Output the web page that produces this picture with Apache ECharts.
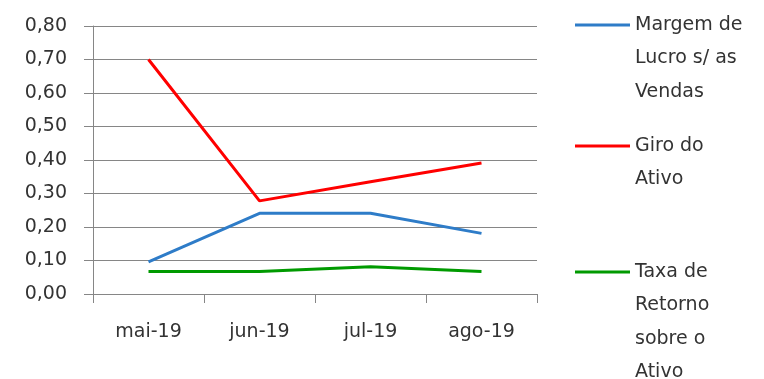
<!DOCTYPE html>
<html><head><meta charset="utf-8">
<script src="https://cdn.jsdelivr.net/npm/echarts@6/dist/echarts.min.js"></script>
<style>html,body{margin:0;padding:0;background:#fff}#c{width:764px;height:379px}</style>
</head><body><div id="c"></div>
<script>
var categories = ['mai-19', 'jun-19', 'jul-19', 'ago-19'];
var margemLucro = [0.096, 0.241, 0.241, 0.181];
var giroAtivo = [0.70, 0.278, 0.335, 0.391];
var taxaRetorno = [0.067, 0.067, 0.081, 0.067];
var yTicks = [0, 0.8, 0.1];
var names = ['Margem de\nLucro s/ as\nVendas', 'Giro do\nAtivo', 'Taxa de\nRetorno\nsobre o\nAtivo'];

var FONT = 'DejaVu Sans';
var TXT = '#333333';
var LH = 33.5;
function legendFor(name, iconCenter) {
  var lines = name.split('\n').length;
  var total = 2 * lines - 1;
  return {
    data: [name], left: 575, top: iconCenter - total * LH / 2, padding: 0,
    itemWidth: 55, itemHeight: 3, icon: 'rect', itemGap: 0,
    selectedMode: false,
    formatter: function (n) { return new Array(lines).join('\n') + n; },
    textStyle: { fontFamily: FONT, fontSize: 19, color: TXT, lineHeight: LH }
  };
}
var chart = echarts.init(document.getElementById('c'));
chart.setOption({
  animation: false,
  grid: { left: 93, right: 227, top: 26, bottom: 85 },
  legend: [legendFor(names[0], 25), legendFor(names[1], 146), legendFor(names[2], 272)],
  xAxis: {
    type: 'category', data: categories, boundaryGap: true,
    axisLine: { lineStyle: { color: '#868686', width: 1 } },
    axisTick: { show: true, length: 9, lineStyle: { color: '#868686' } },
    axisLabel: { fontFamily: FONT, fontSize: 19, color: TXT, margin: 29 }
  },
  yAxis: {
    type: 'value', min: yTicks[0], max: yTicks[1], interval: yTicks[2],
    axisLine: { show: true, lineStyle: { color: '#868686', width: 1 } },
    axisTick: { show: true, length: 9, lineStyle: { color: '#868686' } },
    splitLine: { lineStyle: { color: '#868686', width: 1 } },
    axisLabel: { fontFamily: FONT, fontSize: 19, color: TXT, margin: 26, padding: [5, 0, 0, 0],
      formatter: function (v) { return v.toFixed(2).replace('.', ','); } }
  },
  series: [
    { name: names[0], type: 'line', data: margemLucro, showSymbol: false, symbol: 'none', lineStyle: { width: 3, color: '#2E7CC8' }, itemStyle: { color: '#2E7CC8' } },
    { name: names[1], type: 'line', data: giroAtivo, showSymbol: false, symbol: 'none', lineStyle: { width: 3, color: '#FF0000' }, itemStyle: { color: '#FF0000' } },
    { name: names[2], type: 'line', data: taxaRetorno, showSymbol: false, symbol: 'none', lineStyle: { width: 3, color: '#009A00' }, itemStyle: { color: '#009A00' } }
  ]
});
</script></body></html>
